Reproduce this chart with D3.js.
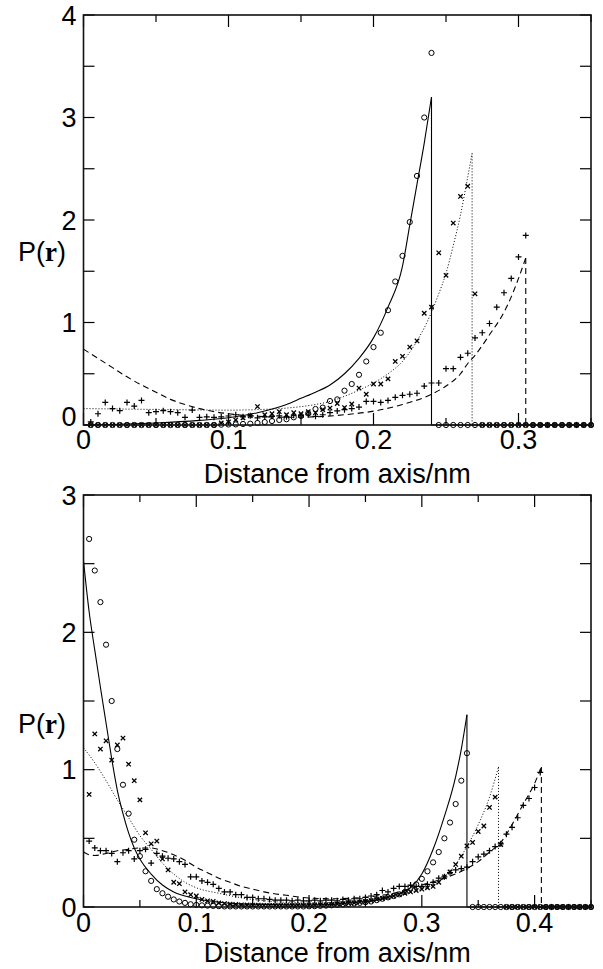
<!DOCTYPE html>
<html><head><meta charset="utf-8">
<script src="https://cdn.jsdelivr.net/npm/d3@7"></script>
<style>body{margin:0;background:#fff}svg{display:block}</style>
</head><body>
<svg id="c" width="603" height="969"></svg>
<script>
// ---------- data: top panel (points every 0.005 nm starting at 0.005) ----------
const topStep = 0.005;
const topCircle = [
  0,0,0,0,0,0,0,0,0,0,0,0,0,0,0,0,0,0,
  0.003,0.005,0.006,0.01,0.013,0.02,0.029,0.039,0.049,0.056,0.075,0.088,0.114,0.156,0.17,0.234,0.25,0.335,0.40,0.49,0.62,0.76,0.90,1.12,1.40,1.65,1.98,2.43,3.00,3.63,
  0,0,0,0,0,0,0,0,0,0,0,0,0,0,0,0,0,0,0,0,0,0
];
const topCross = [
  0,0,0,0,0,0,0,0,0,0,0,0,0,0,0,0,0,0,
  0.02,0.03,0.05,0.07,0.09,0.18,0.10,0.11,0.13,0.10,0.12,0.11,0.13,0.12,0.15,0.165,0.21,0.17,0.205,0.36,0.30,0.40,0.40,0.45,0.62,0.67,0.76,0.82,1.09,1.15,1.68,1.46,1.97,2.23,2.33,1.28,
  0,0,0,0,0,0,0,0,0,0,0,0,0,0,0,0
];
const topPlus = [
  0.03,0.11,0.22,0.16,0.14,0.22,0.185,0.24,0.12,0.13,
  0.14,0.13,0.12,0.075,0.146,0.075,0.08,0.075,0.08,0.088,
  0.10,0.08,0.09,0.07,0.08,0.085,0.09,0.08,0.095,0.09,
  0.10,0.085,0.10,0.12,0.137,0.15,0.16,0.175,0.23,0.23,
  0.22,0.24,0.27,0.29,0.30,0.31,0.38,0.41,0.41,0.55,
  0.55,0.66,0.70,0.85,0.90,0.99,1.15,1.29,1.43,1.64,
  1.85,
  0,0,0,0,0,0,0,0,0
];
const topSolid = [[0,0],[0.02,0.005],[0.05,0.02],[0.08,0.045],[0.1,0.07],[0.12,0.12],[0.14,0.2],[0.15,0.26],[0.16,0.32],[0.17,0.39],[0.18,0.5],[0.19,0.65],[0.2,0.85],[0.21,1.15],[0.22,1.55],[0.225,1.95],[0.23,2.35],[0.235,2.75],[0.24,3.2]];
const topDotted = [[0,0.16],[0.03,0.155],[0.06,0.15],[0.1,0.145],[0.12,0.15],[0.14,0.165],[0.16,0.2],[0.17,0.23],[0.18,0.28],[0.19,0.34],[0.2,0.41],[0.21,0.5],[0.22,0.62],[0.23,0.82],[0.24,1.1],[0.245,1.28],[0.25,1.48],[0.255,1.75],[0.26,2.05],[0.265,2.42],[0.268,2.65]];
const topDashed = [[0,0.74],[0.01,0.65],[0.02,0.56],[0.03,0.47],[0.04,0.39],[0.05,0.32],[0.06,0.25],[0.07,0.2],[0.08,0.16],[0.09,0.13],[0.1,0.11],[0.11,0.095],[0.12,0.085],[0.14,0.075],[0.16,0.08],[0.18,0.1],[0.2,0.135],[0.22,0.2],[0.24,0.3],[0.25,0.38],[0.26,0.5],[0.265,0.6],[0.27,0.68],[0.28,0.88],[0.29,1.1],[0.295,1.25],[0.3,1.43],[0.305,1.63]];
const topXTicks = [0,0.1,0.2,0.3];
const topYTicks = [0,1,2,3,4];

// ---------- data: bottom panel ----------
const botCircle = [
  2.68,2.45,2.22,1.91,1.50,1.15,0.89,0.68,0.49,0.37,0.26,0.19,0.13,0.10,0.075,0.055,0.04,0.03,0.02,0.015,0.012,0.01,0.008,0.006,
  0.004,0.004,0.004,0.004,0.004,0.004,0.004,0.004,0.004,0.004,0.004,0.004,0.004,0.004,0.004,
  0.005,0.006,0.008,0.01,0.012,0.015,0.018,0.022,0.026,0.03,0.035,0.04,0.05,0.06,0.07,0.08,0.092,0.11,0.14,0.165,0.205,0.26,0.325,0.40,0.50,0.615,0.75,0.92,1.12,
  0,0,0,0,0,0,0,0,0,0,0,0,0,0,0,0,0,0,0,0,0,0
];
const botCross = [
  0.82,1.26,1.15,1.21,1.07,1.18,1.23,1.04,0.92,0.78,0.54,0.46,0.48,0.35,0.27,0.18,0.17,0.11,0.09,0.08,0.055,0.045,0.04,0.03,0.025,0.02,
  0.018,0.016,0.015,0.014,0.013,0.012,0.012,0.011,0.011,0.011,0.011,0.012,0.012,0.012,
  0.013,0.015,0.016,0.018,0.021,0.024,0.027,0.03,0.035,0.04,0.047,0.055,0.062,0.07,0.08,0.09,0.10,0.11,0.12,0.13,0.14,0.15,0.18,0.22,0.255,0.31,0.37,0.445,0.47,0.55,0.59,0.725,0.80,0.455,
  0,0,0,0,0,0,0,0,0,0,0,0,0,0,0,0
];
const botPlus = [
  0.48,0.43,0.41,0.41,0.39,0.33,0.395,0.41,0.35,0.41,
  0.42,0.32,0.39,0.37,0.355,0.35,0.33,0.31,0.22,0.22,
  0.19,0.18,0.165,0.135,0.11,0.11,0.09,0.09,0.07,0.07,
  0.06,0.06,0.055,0.05,0.05,0.05,0.045,0.05,0.045,0.045,
  0.05,0.045,0.05,0.05,0.045,0.055,0.05,0.06,0.06,0.07,
  0.08,0.09,0.12,0.11,0.135,0.15,0.15,0.16,0.15,0.15,
  0.165,0.18,0.21,0.22,0.25,0.27,0.28,0.29,0.33,0.365,
  0.385,0.41,0.44,0.46,0.53,0.58,0.65,0.74,0.79,0.87,
  0.98,
  0,0,0,0,0,0,0,0,0
];
const botSolid = [[0,2.52],[0.005,2.15],[0.01,1.87],[0.015,1.6],[0.02,1.34],[0.025,1.08],[0.03,0.85],[0.035,0.68],[0.04,0.54],[0.045,0.43],[0.05,0.35],[0.06,0.24],[0.07,0.16],[0.08,0.11],[0.09,0.08],[0.1,0.06],[0.12,0.035],[0.15,0.02],[0.2,0.015],[0.25,0.04],[0.27,0.07],[0.28,0.1],[0.29,0.14],[0.3,0.24],[0.31,0.42],[0.32,0.66],[0.33,0.95],[0.335,1.15],[0.34,1.40]];
const botDotted = [[0,1.16],[0.01,1.05],[0.02,0.92],[0.03,0.78],[0.04,0.65],[0.05,0.52],[0.06,0.42],[0.07,0.32],[0.08,0.24],[0.09,0.18],[0.1,0.14],[0.12,0.1],[0.15,0.055],[0.2,0.03],[0.25,0.05],[0.28,0.09],[0.3,0.13],[0.31,0.16],[0.32,0.22],[0.33,0.31],[0.34,0.44],[0.35,0.6],[0.36,0.8],[0.368,1.02]];
const botDashed = [[0,0.40],[0.005,0.38],[0.01,0.375],[0.02,0.39],[0.03,0.41],[0.04,0.42],[0.05,0.43],[0.06,0.43],[0.07,0.41],[0.08,0.38],[0.09,0.34],[0.1,0.29],[0.11,0.25],[0.12,0.21],[0.13,0.18],[0.14,0.15],[0.15,0.13],[0.16,0.11],[0.18,0.085],[0.2,0.065],[0.22,0.06],[0.24,0.065],[0.26,0.08],[0.28,0.11],[0.3,0.16],[0.32,0.21],[0.34,0.28],[0.35,0.33],[0.36,0.4],[0.37,0.47],[0.38,0.6],[0.39,0.75],[0.4,0.9],[0.406,1.02]];
const botXTicks = [0,0.1,0.2,0.3,0.4];
const botYTicks = [0,1,2,3];

const xTitle = "Distance from axis/nm";

// ---------- drawing ----------
const svg = d3.select("#c");
const FONT = "'Liberation Sans', Arial, Helvetica, sans-serif";
const FS = 27;

function panel(o) {
  const g = svg.append("g");
  const x = d3.scaleLinear().domain([0, o.xmax]).range([o.left, o.right]);
  const y = d3.scaleLinear().domain([0, o.ymax]).range([o.bottom, o.top]);

  const line = d3.line().x(d => x(d[0])).y(d => y(d[1])).curve(d3.curveMonotoneX);
  const lin = d3.line().x(d => x(d[0])).y(d => y(d[1]));
  const styles = [
    {data: o.solid, dash: null, w: 1.1},
    {data: o.dotted, dash: "1,2", w: 1},
    {data: o.dashed, dash: "6,4", w: 1.1}
  ];
  styles.forEach(s => {
    g.append("path").attr("d", line(s.data)).attr("fill", "none").attr("stroke", "#000")
      .attr("stroke-width", s.w).attr("stroke-dasharray", s.dash);
    const last = s.data[s.data.length - 1];
    g.append("path").attr("d", lin([last, [last[0], 0], [o.xmax, 0]])).attr("fill", "none")
      .attr("stroke", "#000").attr("stroke-width", s.w).attr("stroke-dasharray", s.dash);
  });

  const px = i => x((i + 1) * o.step);
  g.append("g").selectAll("circle").data(o.circle).join("circle")
    .attr("cx", (d, i) => px(i)).attr("cy", d => y(d)).attr("r", 2.6)
    .attr("fill", "none").attr("stroke", "#000").attr("stroke-width", 1);
  g.append("g").selectAll("path").data(o.cross).join("path")
    .attr("transform", (d, i) => `translate(${px(i)},${y(d)})`)
    .attr("d", "M-2.2,-2.2L2.2,2.2M-2.2,2.2L2.2,-2.2")
    .attr("stroke", "#000").attr("stroke-width", 1.3).attr("fill", "none");
  g.append("g").selectAll("path").data(o.plus).join("path")
    .attr("transform", (d, i) => `translate(${px(i)},${y(d)})`)
    .attr("d", "M-3,0H3M0,-3V3")
    .attr("stroke", "#000").attr("stroke-width", 1.2).attr("fill", "none");

  // ticks (inward, all four sides)
  const minorX = d3.range(0, o.xmax + 1e-9, 0.05);
  const tk = g.append("g").attr("stroke", "#000").attr("stroke-width", 1.2);
  minorX.forEach(v => {
    const major = Math.abs(v / 0.1 - Math.round(v / 0.1)) < 1e-6;
    const L = major ? 12 : 7;
    tk.append("line").attr("x1", x(v)).attr("x2", x(v)).attr("y1", o.bottom).attr("y2", o.bottom - L);
    tk.append("line").attr("x1", x(v)).attr("x2", x(v)).attr("y1", o.top).attr("y2", o.top + L);
  });
  d3.range(0, o.ymax + 1e-9, 0.5).forEach(v => {
    tk.append("line").attr("x1", o.left).attr("x2", o.left + 11).attr("y1", y(v)).attr("y2", y(v));
    tk.append("line").attr("x1", o.right).attr("x2", o.right - 11).attr("y1", y(v)).attr("y2", y(v));
  });
  g.append("rect").attr("x", o.left).attr("y", o.top).attr("width", o.right - o.left)
    .attr("height", o.bottom - o.top).attr("fill", "none").attr("stroke", "#111").attr("stroke-width", 1.6);

  // labels
  const fmt = d => d === 0 ? "0" : d3.format(".1f")(d);
  o.xticks.forEach(v => {
    g.append("text").attr("x", x(v)).attr("y", o.bottom + o.tickDy).attr("text-anchor", "middle")
      .attr("font-family", FONT).attr("font-size", FS).text(fmt(v));
  });
  o.yticks.forEach(v => {
    const dy = (v === 0 ? o.zeroShift : 0);
    g.append("text").attr("x", o.left - 7).attr("y", y(v) + 9.5 - dy).attr("text-anchor", "end")
      .attr("font-family", FONT).attr("font-size", FS).text(v);
  });
  g.append("text").attr("x", (o.left + o.right) / 2).attr("y", o.bottom + o.titleDy).attr("text-anchor", "middle")
    .attr("font-family", FONT).attr("font-size", FS).text(xTitle);
  const t = g.append("text").attr("x", 18).attr("y", o.pY).attr("font-family", FONT).attr("font-size", FS);
  t.append("tspan").text("P(");
  t.append("tspan").attr("font-family", "'Liberation Serif', 'Times New Roman', serif").attr("font-weight", "bold").text("r");
  t.append("tspan").text(")");
}

panel({left: 83.5, right: 591, top: 15, bottom: 425, xmax: 0.35, ymax: 4, step: topStep,
  circle: topCircle, cross: topCross, plus: topPlus, solid: topSolid, dotted: topDotted, dashed: topDashed,
  xticks: topXTicks, yticks: topYTicks, zeroShift: 9, pY: 261, tickDy: 24, titleDy: 58});
panel({left: 83.5, right: 591, top: 495, bottom: 907, xmax: 0.45, ymax: 3, step: topStep,
  circle: botCircle, cross: botCross, plus: botPlus, solid: botSolid, dotted: botDotted, dashed: botDashed,
  xticks: botXTicks, yticks: botYTicks, zeroShift: 0, pY: 733, tickDy: 25, titleDy: 55});
</script>
</body></html>
